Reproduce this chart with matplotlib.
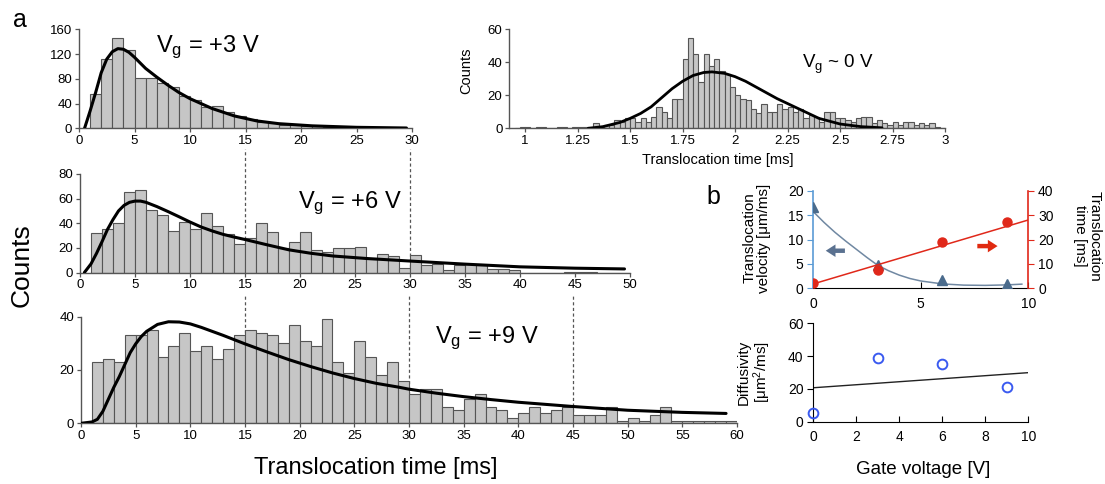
import numpy as np
import matplotlib
matplotlib.use('Agg')
import matplotlib.pyplot as plt

plt.rcParams['font.family'] = ['Liberation Sans', 'DejaVu Sans']
plt.rcParams['mathtext.fontset'] = 'custom'
plt.rcParams['mathtext.rm'] = 'Liberation Sans'
plt.rcParams['mathtext.it'] = 'Liberation Sans:italic'

# ---- data ----
# Vg = +3 V histogram (1 ms bins starting at 1 ms)
bins3 = np.arange(1, 29)
counts3 = [56, 113, 147, 127, 82, 81, 73, 67, 53, 46, 35, 36, 26, 20, 15, 11, 8, 6,
           5, 4, 3, 2, 2, 1, 1, 1, 1, 1]
fit3_t = [0.5, 1.0, 1.5, 2.0, 2.5, 3.0, 3.5, 4.0, 4.5, 5, 6, 7, 8, 9, 10, 12, 14, 16,
          18, 21, 25, 29.5]
fit3_y = [0, 28, 58, 90, 112, 124, 129, 128, 123, 115, 97, 83, 70, 58, 48, 32, 20, 12,
          7.5, 4, 1.6, 0.5]

# Vg = +6 V histogram
bins6 = np.arange(1, 50)
counts6 = [32, 35, 40, 65, 67, 51, 47, 34, 41, 35, 48, 38, 31, 23, 28, 40, 33, 20, 25, 33,
           18, 17, 20, 20, 21, 11, 15, 13, 4, 14, 6, 7, 2, 6, 7, 6, 3, 3, 2, 0,
           0, 0, 0, 0.5, 0.5, 0.5, 0, 0, 0]
fit6_t = [0.4, 1.0, 1.5, 2.0, 2.5, 3.0, 3.5, 4.0, 4.5, 5.0, 5.5, 6, 7, 8, 9, 10, 11, 12,
          13, 14, 15, 17, 19, 21, 23, 26, 30, 35, 40, 45, 49.5]
fit6_y = [0, 7, 15.5, 25, 35, 43, 50, 54.5, 57, 58, 58, 57, 53.5, 49.5, 45.3, 41, 37,
          33.8, 31, 28.8, 26.8, 22.5, 18.4, 15.6, 13.4, 11.4, 9.3, 6.8, 4.6, 3.5, 2.9]

# Vg = +9 V histogram
bins9 = np.arange(1, 60)
counts9 = [23, 24, 23, 33, 33, 35, 25, 29, 34, 27, 29, 24, 28, 33, 35, 34, 33, 30, 37, 31,
           29, 39, 23, 19, 31, 25, 18, 23, 16, 11, 13, 13, 6, 5, 9, 11, 6, 5, 2, 4,
           6, 4, 5, 6, 3, 3, 3, 6, 1, 2, 1, 3, 6, 1, 1, 1, 1, 1, 1]
fit9_t = [0, 1.0, 1.5, 2.0, 2.5, 3.0, 3.5, 4.0, 4.5, 5, 5.5, 6, 7, 8, 9, 10, 11, 12, 13,
          14, 15, 17, 19, 21, 23, 25, 27, 29, 30, 32.5, 35, 37.5, 40, 45, 50, 55, 59]
fit9_y = [0, 0.5, 1.5, 4.5, 9, 13.5, 17.5, 22, 26.5, 29.8, 32.5, 34.5, 37.1, 38.1, 38.0,
          37.3, 36, 34.5, 33, 31.4, 29.8, 26.8, 23.9, 21.3, 18.9, 16.8, 15.0, 13.6, 12.8,
          11.3, 10.0, 8.9, 7.9, 6.3, 4.9, 4.1, 3.7]

# Vg ~ 0 V histogram (0.025 ms bins starting at 0.95 ms)
bins0 = 0.95 + 0.025 * np.arange(82)
counts0 = [0, 0.5, 0.5, 0, 0.5, 0.5, 0, 0, 0.5, 0.5, 0, 0.5, 1, 0.5, 0.5, 3, 1, 2, 2, 5,
           4, 6, 6, 4, 6, 4, 7, 13, 10, 6, 18, 18, 42, 55, 45, 28, 45, 38, 42, 35,
           33, 25, 20, 18, 17, 12, 9, 15, 10, 10, 15, 12, 13, 10, 12, 6, 8, 7, 4, 10,
           10, 6, 6, 5, 4, 6, 7, 7, 3, 5, 3, 2, 4, 2, 4, 4, 2, 3, 2, 3, 1, 0]
fit0_t = [1.3, 1.37, 1.45, 1.5, 1.55, 1.6, 1.65, 1.7, 1.75, 1.8, 1.85, 1.89, 1.95, 2.0,
          2.05, 2.1, 2.15, 2.2, 2.25, 2.3, 2.35, 2.4, 2.5, 2.6, 2.7]
fit0_y = [0, 1, 3.5, 6, 9, 13, 18.5, 24, 28.5, 32, 33.8, 34.2, 33.3, 31.3, 28.5, 25,
          21.5, 18, 15, 12, 9, 6, 2.6, 1, 0.3]

# panel b
gate_v = [0, 3, 6, 9]
velocity = [16.6, 4.8, 1.8, 0.9]
trans_time = [2.0, 7.3, 18.9, 27.2]
diffusivity = [5.1, 38.6, 35.2, 20.9]
vfit_x = [0, 0.5, 1, 1.5, 2, 2.5, 3, 3.5, 4, 4.5, 5, 6, 7, 8, 9, 9.7]
vfit_y = [15.7, 13.5, 11.5, 9.7, 8.0, 6.3, 4.7, 3.6, 2.7, 2.0, 1.5, 0.9, 0.65, 0.6, 0.7, 0.85]
tfit_x = [0, 10]
tfit_y = [1.8, 28]
dfit_x = [0, 10]
dfit_y = [20.7, 29.9]

# ---- layout helpers (pixel coordinates of the 1105x484 canvas) ----
W, H = 1105, 484
fig = plt.figure(figsize=(W / 100, H / 100), dpi=100)


def add_ax(l, t, r, b):
    return fig.add_axes([l / W, 1 - b / H, (r - l) / W, (b - t) / H])


def ftext(x, y, s, **kw):
    fig.text(x / W, 1 - y / H, s, **kw)


def hist_panel(ax, edges, counts, width, ft, fy, xlim, ylim, xticks, yticks, lw_fit=2.2):
    ax.bar(edges, counts, width=width, align='edge', color='#c6c6c6',
           edgecolor='#555555', lw=0.8, zorder=2)
    ax.plot(ft, fy, color='black', lw=lw_fit, zorder=3, solid_capstyle='round')
    ax.set_xlim(*xlim)
    ax.set_ylim(*ylim)
    ax.set_xticks(xticks)
    ax.set_yticks(yticks)
    for s in ['top', 'right']:
        ax.spines[s].set_visible(False)
    for s in ['left', 'bottom']:
        ax.spines[s].set_color('#555555')
        ax.spines[s].set_linewidth(1.0)
    ax.tick_params(length=3, width=0.9, color='#555555', labelsize=9.5, pad=2)


ax1 = add_ax(79, 29.5, 412, 128.3)
hist_panel(ax1, bins3, counts3, 1, fit3_t, fit3_y, (0, 30), (0, 160),
           range(0, 31, 5), range(0, 161, 40))
ax1.text(6.9, 124, r'V$_\mathregular{g}$ = +3 V', fontsize=17, va='baseline')

ax2 = add_ax(80, 174, 630, 272.5)
hist_panel(ax2, bins6, counts6, 1, fit6_t, fit6_y, (0, 50), (0, 80),
           range(0, 51, 5), range(0, 81, 20))
ax2.text(19.8, 52.4, r'V$_\mathregular{g}$ = +6 V', fontsize=17, va='baseline')

ax3 = add_ax(81, 316.7, 737, 423.3)
hist_panel(ax3, bins9, counts9, 1, fit9_t, fit9_y, (0, 60), (0, 40),
           range(0, 61, 5), range(0, 41, 20))
ax3.text(32.4, 30.1, r'V$_\mathregular{g}$ = +9 V', fontsize=17, va='baseline')

for ax, xs, top in [(ax2, [15, 30], 1.25), (ax3, [15, 30, 45], 1.2)]:
    for x in xs:
        ax.axvline(x, 0, top, ls=(0, (2.5, 2)), color='#555555', lw=0.9,
                   clip_on=False, zorder=1)

ax4 = add_ax(509.4, 29.3, 945, 128.3)
hist_panel(ax4, bins0, counts0, 0.025, fit0_t, fit0_y, (0.925, 3.0), (0, 60),
           [1, 1.25, 1.5, 1.75, 2, 2.25, 2.5, 2.75, 3], range(0, 61, 20), lw_fit=2.0)
ax4.set_xticklabels(['1', '1.25', '1.5', '1.75', '2', '2.25', '2.5', '2.75', '3'])
ax4.text(2.318, 36.5, r'V$_\mathregular{g}$ ~ 0 V', fontsize=13.5, va='baseline')
ftext(466, 71, 'Counts', rotation=90, ha='center', va='center', fontsize=10.5)
ftext(718, 160, 'Translocation time [ms]', ha='center', va='center', fontsize=10.5)

ftext(22, 265, 'Counts', rotation=90, ha='center', va='center', fontsize=19)
ftext(376, 468, 'Translocation time [ms]', ha='center', va='center', fontsize=17)
ftext(20, 20, 'a', ha='center', va='center', fontsize=18)
ftext(713, 197, 'b', ha='center', va='center', fontsize=18)

# ---- panel b, top: velocity and translocation time ----
blue_ax = '#5b9bd5'
red = '#e0281a'
axL = add_ax(813.3, 190.7, 1028.3, 288.3)
axL.plot(vfit_x, vfit_y, color='#7088a2', lw=1.1, zorder=2)
axL.plot(gate_v, velocity, ls='none', marker='^', ms=7, color='#4a6b8c', zorder=3)
axL.set_xlim(0, 10)
axL.set_ylim(0, 20)
axL.set_xticks([0, 5, 10])
axL.set_yticks(range(0, 21, 5))
for s in ['top', 'right']:
    axL.spines[s].set_visible(False)
axL.spines['left'].set_color(blue_ax)
axL.spines['left'].set_linewidth(1.2)
axL.spines['bottom'].set_color('black')
axL.tick_params(axis='x', direction='in', length=4, labelsize=10, pad=6)
axL.tick_params(axis='y', color=blue_ax, length=4, labelsize=10, pad=3)
axL.annotate('', xy=(0.45, 7.7), xytext=(1.6, 7.7),
             arrowprops=dict(arrowstyle='simple,head_width=0.9,head_length=0.7,tail_width=0.32',
                             color='#5a7190', mutation_scale=10, lw=0))

axR = axL.twinx()
axR.plot(tfit_x, tfit_y, color=red, lw=1.1, zorder=2)
axR.plot(gate_v, trans_time, ls='none', marker='o', ms=6.5, color=red, zorder=3)
axR.set_ylim(0, 40)
axR.set_yticks(range(0, 41, 10))
for s in ['top', 'left', 'bottom']:
    axR.spines[s].set_visible(False)
axR.spines['right'].set_color(red)
axR.spines['right'].set_linewidth(1.2)
axR.tick_params(axis='y', color=red, length=4, labelsize=10, pad=3)
axR.annotate('', xy=(8.7, 17.3), xytext=(7.5, 17.3),
             arrowprops=dict(arrowstyle='simple,head_width=0.9,head_length=0.7,tail_width=0.32',
                             color='#e02a10', mutation_scale=10, lw=0))

ftext(757, 238, 'Translocation\nvelocity [\u03bcm/ms]', rotation=90, ha='center',
      va='center', fontsize=11, linespacing=1.05)
ftext(1087, 236, 'Translocation\ntime [ms]', rotation=270, ha='center',
      va='center', fontsize=11, linespacing=1.05)

# ---- panel b, bottom: diffusivity ----
axD = add_ax(813.3, 323.3, 1028.3, 421.7)
axD.plot(dfit_x, dfit_y, color='#222222', lw=1.0, zorder=2)
axD.plot(gate_v, diffusivity, ls='none', marker='o', ms=7, mfc='none', mec='#3a5af0',
         mew=1.4, zorder=3, clip_on=False)
axD.set_xlim(0, 10)
axD.set_ylim(0, 60)
axD.set_xticks(range(0, 11, 2))
axD.set_yticks(range(0, 61, 20))
for s in ['top', 'right']:
    axD.spines[s].set_visible(False)
axD.tick_params(axis='x', direction='in', length=4, labelsize=10, pad=6)
axD.tick_params(axis='y', length=4, labelsize=10, pad=3)
ftext(755, 372, 'Diffusivity\n[\u03bcm$^\\mathregular{2}$/ms]', rotation=90, ha='center',
      va='center', fontsize=11, linespacing=1.05)
ftext(923, 470, 'Gate voltage [V]', ha='center', va='center', fontsize=13.5)

fig.savefig('out.png', dpi=100)
